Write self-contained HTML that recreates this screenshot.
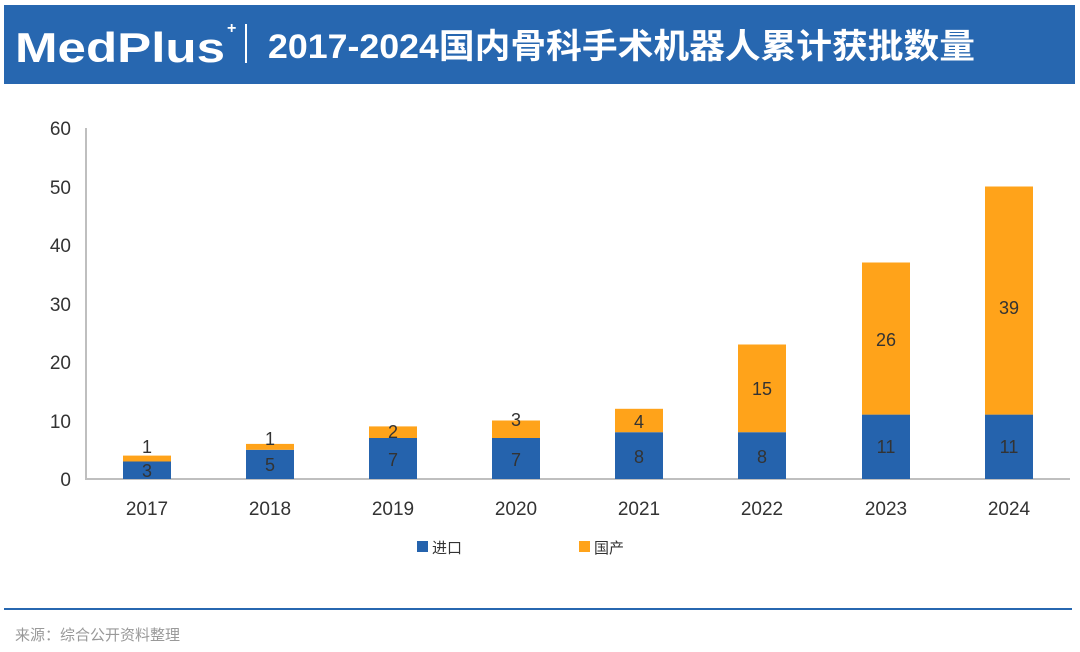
<!DOCTYPE html>
<html><head><meta charset="utf-8"><style>
body{margin:0;background:#fff;width:1080px;height:652px;overflow:hidden}
svg{display:block}
</style></head><body>
<svg width="1080" height="652" xmlns="http://www.w3.org/2000/svg" font-family="'Liberation Sans','Noto Sans CJK SC',sans-serif">
<rect x="4" y="5" width="1071" height="79" fill="#2767b0"/>
<text x="15" y="62" fill="#fff" font-size="42" font-weight="bold" font-family="'Liberation Sans',sans-serif" textLength="210" lengthAdjust="spacingAndGlyphs">MedPlus</text>
<text x="227" y="33" fill="#fff" font-size="16" font-weight="bold">+</text>
<rect x="245" y="24" width="2" height="39" fill="#fff"/>
<text x="268" y="58" fill="#fff" font-size="34" font-weight="bold" textLength="707" lengthAdjust="spacingAndGlyphs">2017-2024国内骨科手术机器人累计获批数量</text>
<g fill="#333" font-size="19" text-anchor="end">
<text x="71" y="486">0</text><text x="71" y="428">10</text><text x="71" y="369">20</text>
<text x="71" y="311">30</text><text x="71" y="252">40</text><text x="71" y="194">50</text><text x="71" y="135">60</text>
</g>
<line x1="86" y1="128" x2="86" y2="480" stroke="#bfbfbf" stroke-width="2"/>
<line x1="86" y1="479" x2="1070" y2="479" stroke="#bfbfbf" stroke-width="2"/>
<g font-size="18" fill="#333" text-anchor="middle">
<rect x="123" y="461.5" width="48" height="17.5" fill="#2563ad"/><rect x="123" y="455.6" width="48" height="5.9" fill="#ffa31a"/>
<text x="147" y="477">3</text><text x="147" y="453">1</text>
<rect x="246" y="449.8" width="48" height="29.2" fill="#2563ad"/><rect x="246" y="443.9" width="48" height="5.9" fill="#ffa31a"/>
<text x="270" y="471">5</text><text x="270" y="445">1</text>
<rect x="369" y="438" width="48" height="41" fill="#2563ad"/><rect x="369" y="426.4" width="48" height="11.6" fill="#ffa31a"/>
<text x="393" y="466">7</text><text x="393" y="438">2</text>
<rect x="492" y="438" width="48" height="41" fill="#2563ad"/><rect x="492" y="420.5" width="48" height="17.5" fill="#ffa31a"/>
<text x="516" y="466">7</text><text x="516" y="426">3</text>
<rect x="615" y="432.2" width="48" height="46.8" fill="#2563ad"/><rect x="615" y="408.8" width="48" height="23.4" fill="#ffa31a"/>
<text x="639" y="463">8</text><text x="639" y="428">4</text>
<rect x="738" y="432.2" width="48" height="46.8" fill="#2563ad"/><rect x="738" y="344.5" width="48" height="87.7" fill="#ffa31a"/>
<text x="762" y="463">8</text><text x="762" y="395">15</text>
<rect x="862" y="414.6" width="48" height="64.4" fill="#2563ad"/><rect x="862" y="262.5" width="48" height="152.1" fill="#ffa31a"/>
<text x="886" y="453">11</text><text x="886" y="346">26</text>
<rect x="985" y="414.6" width="48" height="64.4" fill="#2563ad"/><rect x="985" y="186.5" width="48" height="228.1" fill="#ffa31a"/>
<text x="1009" y="453">11</text><text x="1009" y="314">39</text>
<g font-size="19">
<text x="147" y="515">2017</text><text x="270" y="515">2018</text><text x="393" y="515">2019</text><text x="516" y="515">2020</text>
<text x="639" y="515">2021</text><text x="762" y="515">2022</text><text x="886" y="515">2023</text><text x="1009" y="515">2024</text>
</g>
</g>
<rect x="417" y="541" width="11" height="11" fill="#2563ad"/>
<text x="432" y="553" font-size="15" fill="#333">进口</text>
<rect x="579" y="541" width="11" height="11" fill="#ffa31a"/>
<text x="594" y="553" font-size="15" fill="#333">国产</text>
<rect x="4" y="608" width="1068" height="2" fill="#2767b0"/>
<text x="15" y="640" font-size="15" fill="#999">来源：综合公开资料整理</text>
</svg>
</body></html>
